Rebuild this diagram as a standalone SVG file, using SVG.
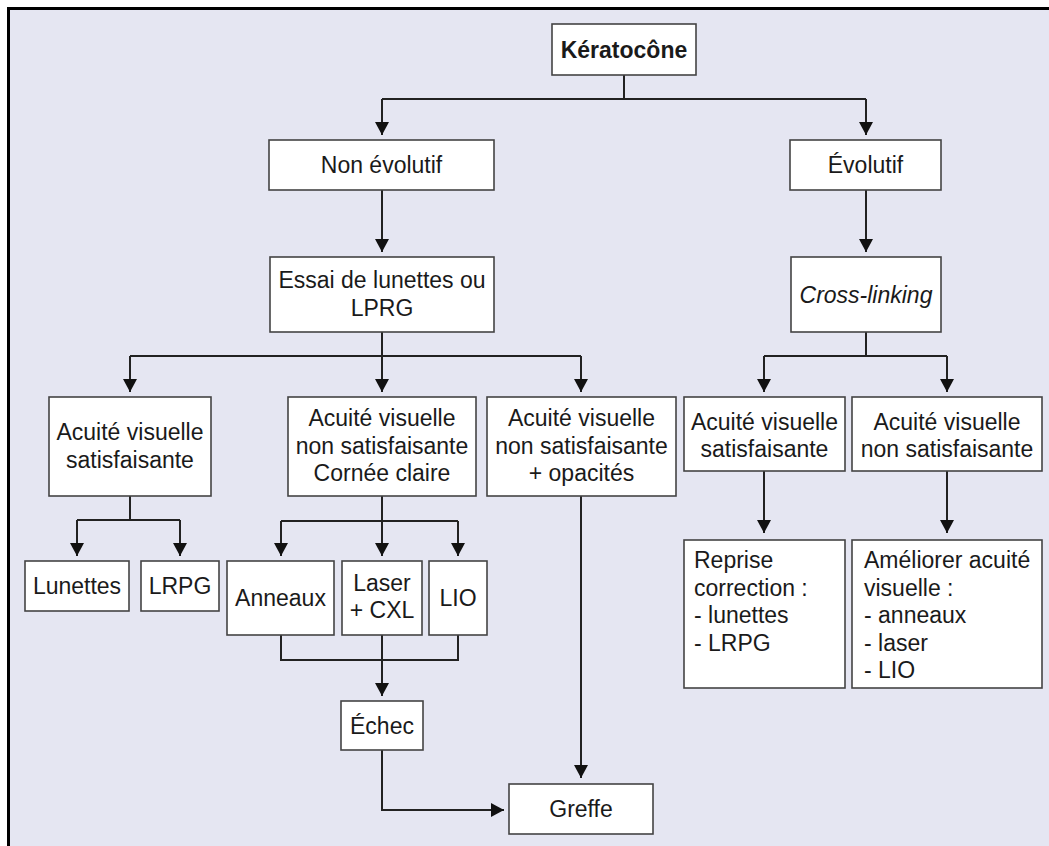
<svg xmlns="http://www.w3.org/2000/svg" width="1049" height="846" viewBox="0 0 1049 846">
<defs>
<style>
.box{fill:#ffffff;stroke:#444444;stroke-width:1.6}
.t{font-family:"Liberation Sans",Arial,Helvetica,sans-serif;font-size:23px;fill:#1a1a1a;text-anchor:middle}
.tl{text-anchor:start}
.b{font-weight:bold}
.i{font-style:italic}
.c{fill:none;stroke:#222222;stroke-width:2}
</style>
<marker id="ah" viewBox="0 0 13 14" refX="13" refY="7" markerWidth="13" markerHeight="14" markerUnits="userSpaceOnUse" orient="auto">
<path d="M0,0 L13,7 L0,14 z" fill="#111111"/>
</marker>
</defs>
<rect x="0" y="0" width="1049" height="846" fill="#ffffff"/>
<rect x="7" y="7" width="1042" height="839" fill="#e5e6f2"/>
<rect x="7" y="7" width="1042" height="3" fill="#000000"/>
<rect x="7" y="7" width="3" height="839" fill="#000000"/>

<g id="connectors">
<path class="c" d="M624,75 V99 M382,99 H866"/>
<path class="c" d="M382,99 V135" marker-end="url(#ah)"/>
<path class="c" d="M866,99 V135" marker-end="url(#ah)"/>
<path class="c" d="M382,190 V252" marker-end="url(#ah)"/>
<path class="c" d="M866,190 V252" marker-end="url(#ah)"/>
<path class="c" d="M382,332 V356 M130,356 H581"/>
<path class="c" d="M130,356 V392" marker-end="url(#ah)"/>
<path class="c" d="M382,356 V392" marker-end="url(#ah)"/>
<path class="c" d="M581,356 V392" marker-end="url(#ah)"/>
<path class="c" d="M866,332 V356 M764,356 H947"/>
<path class="c" d="M764,356 V392" marker-end="url(#ah)"/>
<path class="c" d="M947,356 V392" marker-end="url(#ah)"/>
<path class="c" d="M130,496 V520 M77,520 H180"/>
<path class="c" d="M77,520 V556" marker-end="url(#ah)"/>
<path class="c" d="M180,520 V556" marker-end="url(#ah)"/>
<path class="c" d="M382,496 V521 M281,521 H458"/>
<path class="c" d="M281,521 V556" marker-end="url(#ah)"/>
<path class="c" d="M382,521 V556" marker-end="url(#ah)"/>
<path class="c" d="M458,521 V556" marker-end="url(#ah)"/>
<path class="c" d="M281,635 V660 H458 V635"/>
<path class="c" d="M382,635 V696" marker-end="url(#ah)"/>
<path class="c" d="M382,750 V810 H504" marker-end="url(#ah)"/>
<path class="c" d="M581,496 V778" marker-end="url(#ah)"/>
<path class="c" d="M764,471 V533" marker-end="url(#ah)"/>
<path class="c" d="M947,471 V533" marker-end="url(#ah)"/>
</g>

<g id="keratocone">
<rect class="box" x="552" y="24" width="144" height="51"/>
<text class="t b" x="624" y="57.5">Kératocône</text>
</g>
<g id="non-evolutif">
<rect class="box" x="269" y="140" width="225" height="50"/>
<text class="t" x="381.5" y="173">Non évolutif</text>
</g>
<g id="evolutif">
<rect class="box" x="790" y="140" width="151" height="50"/>
<text class="t" x="865.5" y="173">Évolutif</text>
</g>
<g id="essai">
<rect class="box" x="270" y="257" width="224" height="75"/>
<text class="t" x="382" y="288">Essai de lunettes ou</text>
<text class="t" x="382" y="316">LPRG</text>
</g>
<g id="cross-linking">
<rect class="box" x="791" y="257" width="150" height="75"/>
<text class="t i" x="866" y="302.5">Cross-linking</text>
</g>
<g id="av-satisf-left">
<rect class="box" x="49" y="397" width="162" height="99"/>
<text class="t" x="130" y="439.5">Acuité visuelle</text>
<text class="t" x="130" y="467.5">satisfaisante</text>
</g>
<g id="av-non-satisf-cornee">
<rect class="box" x="288" y="397" width="188" height="99"/>
<text class="t" x="382" y="426">Acuité visuelle</text>
<text class="t" x="382" y="453.5">non satisfaisante</text>
<text class="t" x="382" y="481">Cornée claire</text>
</g>
<g id="av-non-satisf-opacites">
<rect class="box" x="487" y="397" width="189" height="99"/>
<text class="t" x="581.5" y="426">Acuité visuelle</text>
<text class="t" x="581.5" y="453.5">non satisfaisante</text>
<text class="t" x="581.5" y="481">+ opacités</text>
</g>
<g id="av-satisf-right">
<rect class="box" x="684" y="397" width="161" height="74"/>
<text class="t" x="764.5" y="429.5">Acuité visuelle</text>
<text class="t" x="764.5" y="456.5">satisfaisante</text>
</g>
<g id="av-non-satisf-right">
<rect class="box" x="852" y="397" width="190" height="74"/>
<text class="t" x="947" y="429.5">Acuité visuelle</text>
<text class="t" x="947" y="456.5">non satisfaisante</text>
</g>
<g id="lunettes">
<rect class="box" x="25" y="561" width="104" height="50"/>
<text class="t" x="77" y="594">Lunettes</text>
</g>
<g id="lrpg">
<rect class="box" x="141" y="561" width="78" height="50"/>
<text class="t" x="180" y="594">LRPG</text>
</g>
<g id="anneaux">
<rect class="box" x="227" y="561" width="107" height="74"/>
<text class="t" x="280.5" y="606">Anneaux</text>
</g>
<g id="laser-cxl">
<rect class="box" x="342" y="561" width="80" height="74"/>
<text class="t" x="382" y="591">Laser</text>
<text class="t" x="382" y="618">+ CXL</text>
</g>
<g id="lio">
<rect class="box" x="429" y="561" width="58" height="74"/>
<text class="t" x="458" y="606">LIO</text>
</g>
<g id="echec">
<rect class="box" x="341" y="701" width="82" height="49"/>
<text class="t" x="382" y="734">Échec</text>
</g>
<g id="greffe">
<rect class="box" x="509" y="784" width="144" height="50"/>
<text class="t" x="581" y="817">Greffe</text>
</g>
<g id="reprise">
<rect class="box" x="684" y="540" width="161" height="148"/>
<text class="t tl" x="694" y="568">Reprise</text>
<text class="t tl" x="694" y="595.5">correction :</text>
<text class="t tl" x="694" y="623">- lunettes</text>
<text class="t tl" x="694" y="650.5">- LRPG</text>
</g>
<g id="ameliorer">
<rect class="box" x="852" y="540" width="190" height="148"/>
<text class="t tl" x="864" y="568">Améliorer acuité</text>
<text class="t tl" x="864" y="595.5">visuelle :</text>
<text class="t tl" x="864" y="623">- anneaux</text>
<text class="t tl" x="864" y="650.5">- laser</text>
<text class="t tl" x="864" y="678">- LIO</text>
</g>
</svg>
